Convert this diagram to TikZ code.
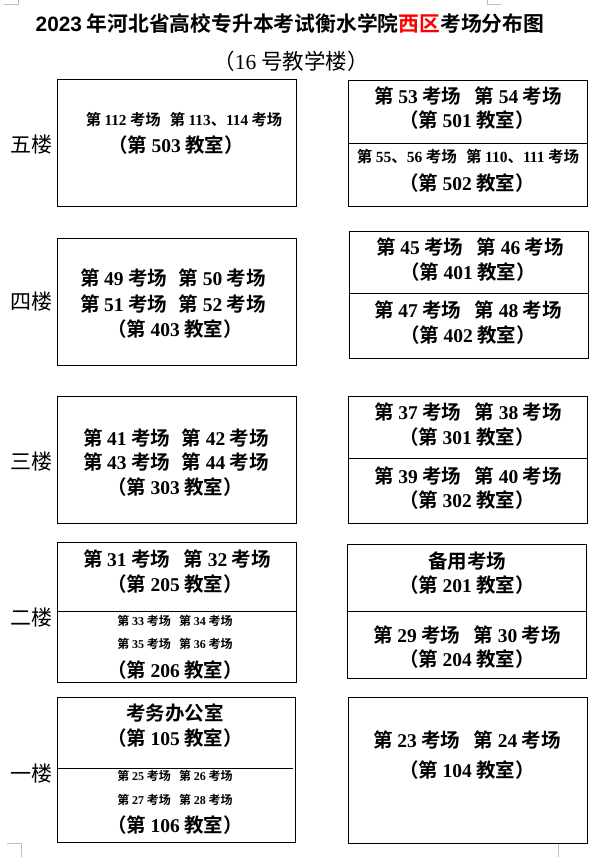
\documentclass[tikz,border=0pt]{standalone}
\usepackage{fontspec}
\setmainfont{Liberation Serif}
\newfontfamily\cjk{Noto Sans CJK SC}[BoldFont={* Bold}]
\newfontfamily\numf{Liberation Serif}
\newfontfamily\numsans{Liberation Sans}
\newcommand\kc[1]{第 {\numf #1} 考场}
\newcommand\js[1]{（第 {\numf #1} 教室）}
\newcommand\gap{\hspace{0.7em}}
\newcommand\gapl{\hspace{0.6em}}
\tikzset{
  box/.style={draw=black, line width=1pt},
  divider/.style={draw=black, line width=1pt},
  big/.style={font=\cjk\bfseries\fontsize{19.5}{22}\selectfont, inner sep=0pt},
  midl/.style={font=\cjk\bfseries\fontsize{15.3}{18}\selectfont, inner sep=0pt},
  midr/.style={font=\cjk\bfseries\fontsize{15.5}{18}\selectfont, inner sep=0pt},
  small/.style={font=\cjk\bfseries\fontsize{12}{14}\selectfont, inner sep=0pt},
  floor/.style={font=\cjk\fontsize{21}{24}\selectfont, inner sep=0pt},
  cornermark/.style={draw=black!25, line width=0.8pt},
}
\begin{document}
\begin{tikzpicture}[x=1pt,y=-1pt]
\useasboundingbox[fill=white] (0,0) rectangle (599,862);
% page corner marks
\draw[cornermark] (4,4) -- (18,4) -- (18,0);
\draw[cornermark] (487,0) -- (487,4) -- (501,4);
\draw[cornermark] (7,843) -- (21,843) -- (21,857);
\draw[cornermark] (572,843) -- (558,843) -- (558,857);

% title
\node[font=\cjk\bfseries\fontsize{20.8}{24}\selectfont, inner sep=0pt] (title) at (290,24)
  {{\numsans 2023} 年河北省高校专升本考试衡水学院{\color{red}西区}考场分布图};
\node[font=\cjk\fontsize{21.5}{24}\selectfont, inner sep=0pt] (sub) at (291,61)
  {（{\numf 16} 号教学楼）};

% ---------- fifth floor
\node[floor] (f5) at (31,145) {五楼};
\draw[box] (57,79) rectangle (296,206);
\node[midl] (t5a) at (184,120) {\kc{112}\gapl 第 {\numf 113}、{\numf 114} 考场};
\node[big] (t5b) at (176,145) {\js{503}};
\draw[box] (348,80) rectangle (587,206);
\draw[divider] (348,143) -- (587,143);
\node[big] (t5c) at (468,96) {\kc{53}\gap\kc{54}};
\node[big] (t5d) at (467,120) {\js{501}};
\node[midr] (t5e) at (468,157) {第 {\numf 55}、{\numf 56} 考场\gapl 第 {\numf 110}、{\numf 111} 考场};
\node[big] (t5f) at (467,183) {\js{502}};

% ---------- fourth floor
\node[floor] (f4) at (31,302) {四楼};
\draw[box] (57,238) rectangle (296,365);
\node[big] (t4a) at (173,278) {\kc{49}\gapl\kc{50}};
\node[big] (t4b) at (173,304) {\kc{51}\gapl\kc{52}};
\node[big] (t4c) at (175,329) {\js{403}};
\draw[box] (349,231) rectangle (588,358);
\draw[divider] (349,293) -- (588,293);
\node[big] (t4d) at (470,247) {\kc{45}\gap\kc{46}};
\node[big] (t4e) at (468,272) {\js{401}};
\node[big] (t4f) at (468,310) {\kc{47}\gap\kc{48}};
\node[big] (t4g) at (468,335) {\js{402}};

% ---------- third floor
\node[floor] (f3) at (31,462) {三楼};
\draw[box] (57,396) rectangle (296,523);
\node[big] (t3a) at (176,438) {\kc{41}\gapl\kc{42}};
\node[big] (t3b) at (176,462) {\kc{43}\gapl\kc{44}};
\node[big] (t3c) at (175,487) {\js{303}};
\draw[box] (348,396) rectangle (587,523);
\draw[divider] (348,458) -- (587,458);
\node[big] (t3d) at (468,412) {\kc{37}\gap\kc{38}};
\node[big] (t3e) at (467,437) {\js{301}};
\node[big] (t3f) at (468,476) {\kc{39}\gap\kc{40}};
\node[big] (t3g) at (467,500) {\js{302}};

% ---------- second floor
\node[floor] (f2) at (31,618) {二楼};
\draw[box] (57,542) rectangle (296,682);
\draw[divider] (57,611) -- (296,611);
\node[big] (t2a) at (177,559) {\kc{31}\gap\kc{32}};
\node[big] (t2b) at (175,584) {\js{205}};
\node[small] (t2c) at (175,621) {\kc{33}\gap\kc{34}};
\node[small] (t2d) at (175,644) {\kc{35}\gap\kc{36}};
\node[big] (t2e) at (175,670) {\js{206}};
\draw[box] (347,544) rectangle (586,678);
\draw[divider] (347,611) -- (586,611);
\node[big] (t2f) at (467,561) {备用考场};
\node[big] (t2g) at (467,585) {\js{201}};
\node[big] (t2h) at (467,635) {\kc{29}\gap\kc{30}};
\node[big] (t2i) at (467,659) {\js{204}};

% ---------- first floor
\node[floor] (f1) at (31,773) {一楼};
\draw[box] (57,697) rectangle (295,842);
\draw[divider] (57,768) -- (293,768);
\node[big] (t1a) at (175,713) {考务办公室};
\node[big] (t1b) at (175,738) {\js{105}};
\node[small] (t1c) at (175,776) {\kc{25}\gap\kc{26}};
\node[small] (t1d) at (175,800) {\kc{27}\gap\kc{28}};
\node[big] (t1e) at (175,825) {\js{106}};
\draw[box] (348,697) rectangle (587,843);
\node[big] (t1f) at (467,740) {\kc{23}\gap\kc{24}};
\node[big] (t1g) at (467,770) {\js{104}};
\end{tikzpicture}
\end{document}
